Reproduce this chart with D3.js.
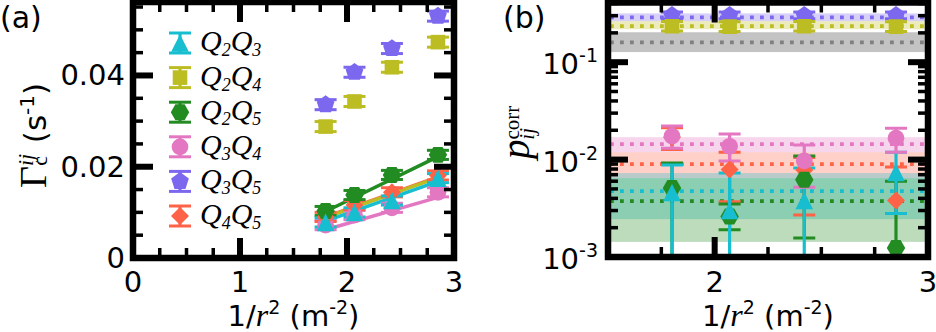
<!DOCTYPE html>
<html><head><meta charset="utf-8">
<script src="https://cdn.jsdelivr.net/npm/d3@7"></script>
<style>body{margin:0;background:#fff}svg{display:block}</style>
</head><body><svg id="c" width="936" height="332"></svg>
<script>
// ---------- data ----------
const xVals = [1.80, 2.07, 2.42, 2.85];            // 1/r^2 (m^-2)
const pairSubs = [["2","3"],["2","4"],["2","5"],["3","4"],["3","5"],["4","5"]];
const colors = ["#17becf","#bcbd22","#228b22","#e377c2","#7b68ee","#ff6347"];
const shapes = ["triangle","square","hexagon","circle","pentagon","diamond"];

// (a) Gamma_c^{ij} (s^-1)
const gammaQ2Q3 = [0.0078, 0.0100, 0.0126, 0.0175];
const gammaQ2Q4 = [0.0288, 0.0343, 0.0418, 0.0473];
const gammaQ2Q5 = [0.0103, 0.0138, 0.0182, 0.0226];
const gammaQ3Q4 = [0.0072, 0.0094, 0.0110, 0.0144];
const gammaQ3Q5 = [0.0336, 0.0407, 0.0459, 0.0530];
const gammaQ4Q5 = [0.0090, 0.0116, 0.0144, 0.0181];
const gammaErr  = [0.0010, 0.0011, 0.0010, 0.0010, 0.0011, 0.0010];
const fitX = [1.80, 2.85];
const fitQ2Q3 = [0.0081, 0.0168];
const fitQ2Q4 = [0.0089, 0.0176];
const fitQ2Q5 = [0.0102, 0.0222];
const fitQ3Q4 = [0.0062, 0.0133];
const fitQ3Q5 = null;
const fitQ4Q5 = [0.0090, 0.0178];

// (b) p_ij^corr : value, lower cap, upper cap
const pQ2Q3 = [0.0046, 0.0030, 0.0038, 0.0074];
const pQ2Q3Lo = [0.0002, 0.0002, 0.0002, 0.0028];
const pQ2Q3Hi = [0.0088, 0.0073, 0.0082, 0.0119];
const pQ2Q4 = [0.234, 0.232, 0.234, 0.232];
const pQ2Q4Lo = [0.209, 0.207, 0.209, 0.207];
const pQ2Q4Hi = [0.262, 0.260, 0.262, 0.260];
const pQ2Q5 = [0.0051, 0.0026, 0.0062, 0.00124];
const pQ2Q5Lo = [0.0002, 0.0019, 0.00157, 0.0002];
const pQ2Q5Hi = [0.0092, 0.0035, 0.0109, 0.0060];
const pQ3Q4 = [0.0174, 0.0137, 0.0097, 0.0166];
const pQ3Q4Lo = [0.0131, 0.0097, 0.0052, 0.0119];
const pQ3Q4Hi = [0.0221, 0.0183, 0.0141, 0.0210];
const pQ3Q5 = [0.303, 0.303, 0.303, 0.303];
const pQ3Q5Lo = [0.280, 0.280, 0.280, 0.280];
const pQ3Q5Hi = [0.328, 0.328, 0.328, 0.328];
const pQ4Q5 = [0.0170, 0.0079, 0.0078, 0.0038];
const pQ4Q5Lo = [0.0127, 0.0037, 0.0027, 0.0028];
const pQ4Q5Hi = [0.0212, 0.0119, 0.0105, 0.0084];

// (b) averages (dotted) with +/- bands; order: Q3Q5, Q2Q4, reference, Q3Q4, Q4Q5, Q2Q3, Q2Q5
const meanVals  = [0.289, 0.234, 0.160, 0.0144, 0.0090, 0.00475, 0.00375];
const bandLo    = [0.264, 0.218, 0.127, 0.0119, 0.00645, 0.00245, 0.00143];
const bandHi    = [0.317, 0.264, 0.203, 0.0170, 0.0119, 0.00727, 0.00645];
const meanColors = ["#7b68ee","#bcbd22","#808080","#e377c2","#ff6347","#17becf","#228b22"];
const bandAlpha  = [0.3, 0.3, 0.47, 0.3, 0.3, 0.3, 0.3];

// tick values
const xTicksA = [0, 1, 2, 3];
const yTicksA = [0, 0.02, 0.04];
const xTicksB = [2, 3];
const yTicksB = [1e-3, 1e-2, 1e-1];
const yTickExpB = ["-3", "-2", "-1"];

// ---------- helpers ----------
const gamma = [gammaQ2Q3, gammaQ2Q4, gammaQ2Q5, gammaQ3Q4, gammaQ3Q5, gammaQ4Q5];
const fits = [fitQ2Q3, fitQ2Q4, fitQ2Q5, fitQ3Q4, fitQ3Q5, fitQ4Q5];
const pv = [pQ2Q3, pQ2Q4, pQ2Q5, pQ3Q4, pQ3Q5, pQ4Q5];
const pLo = [pQ2Q3Lo, pQ2Q4Lo, pQ2Q5Lo, pQ3Q4Lo, pQ3Q5Lo, pQ4Q5Lo];
const pHi = [pQ2Q3Hi, pQ2Q4Hi, pQ2Q5Hi, pQ3Q4Hi, pQ3Q5Hi, pQ4Q5Hi];

const SANS = "DejaVu Sans", SERIF = "Liberation Serif";
const svg = d3.select("#c");

function regPoly(n, r, rot) {
  const pts = d3.range(n).map(i => {
    const a = rot + i * 2 * Math.PI / n;
    return [r * Math.cos(a), r * Math.sin(a)];
  });
  return "M" + pts.map(p => p.join(",")).join("L") + "Z";
}
function markerPath(type) {
  switch (type) {
    case "triangle": { const h = 8.8; return `M0,${-h}L${h},${h}L${-h},${h}Z`; }
    case "square": return regPoly(4, 7.3 * Math.SQRT2, Math.PI / 4);
    case "hexagon": return regPoly(6, 9.2, 0);
    case "circle": return d3.symbol(d3.symbolCircle, Math.PI * 70)();
    case "pentagon": return regPoly(5, 9.3, -Math.PI / 2);
    case "diamond": return regPoly(4, 9, -Math.PI / 2);
  }
}
const CAPW = 11, EBW = 3.2, CAPT = 3;
function errorbar(g, cx, yl, yh, color) {
  g.append("line").attr("x1", cx).attr("x2", cx).attr("y1", yl).attr("y2", yh)
    .attr("stroke", color).attr("stroke-width", EBW);
  [yl, yh].forEach(yy => g.append("line").attr("x1", cx - CAPW).attr("x2", cx + CAPW)
    .attr("y1", yy).attr("y2", yy).attr("stroke", color).attr("stroke-width", CAPT));
}
function marker(g, cx, cy, i) {
  g.append("path").attr("d", markerPath(shapes[i])).attr("transform", `translate(${cx},${cy})`)
    .attr("fill", colors[i]);
}
function drawTicks(g, xs, ys, xMaj, xMin, yMaj, yMin) {
  const [L, R] = xs.range(), [B, T] = ys.range();
  const line = (x1, y1, x2, y2, w) => g.append("line").attr("x1", x1).attr("y1", y1)
    .attr("x2", x2).attr("y2", y2).attr("stroke", "#000").attr("stroke-width", w);
  const ML = 20, ml = 10;
  xMaj.forEach(v => { const x = xs(v); line(x, B, x, B - ML, 6); line(x, T, x, T + ML, 6); });
  xMin.forEach(v => { const x = xs(v); line(x, B, x, B - ml, 3.5); line(x, T, x, T + ml, 3.5); });
  yMaj.forEach(v => { const y = ys(v); line(L, y, L + ML, y, 6); line(R, y, R - ML, y, 6); });
  yMin.forEach(v => { const y = ys(v); line(L, y, L + ml, y, 3.5); line(R, y, R - ml, y, 3.5); });
  g.append("rect").attr("x", L).attr("y", T).attr("width", R - L).attr("height", B - T)
    .attr("fill", "none").attr("stroke", "#000").attr("stroke-width", 6.5);
}
function xLabel(cx) {
  const t = svg.append("text").attr("x", cx).attr("y", 326).attr("text-anchor", "middle")
    .attr("font-family", SANS).attr("font-size", 29);
  t.append("tspan").text("1/");
  t.append("tspan").attr("font-family", SERIF).attr("font-style", "italic").attr("font-size", 32).text("r");
  t.append("tspan").attr("font-size", 19).attr("dy", -12).text("2");
  t.append("tspan").attr("dy", 12).text(" (m");
  t.append("tspan").attr("font-size", 19).attr("dy", -12).text("-2");
  t.append("tspan").attr("dy", 12).text(")");
}

// ---------- panel (a) ----------
const xa = d3.scaleLinear().domain([0, 3]).range([133, 454]);
const ya = d3.scaleLinear().domain([0, 0.0561]).range([258, 2]);
svg.append("clipPath").attr("id", "ca").append("rect")
  .attr("x", 133).attr("y", 2).attr("width", 321).attr("height", 256);
const ga = svg.append("g").attr("clip-path", "url(#ca)");

// fit lines
[5, 1, 0, 3, 2].forEach(i => {
  if (!fits[i]) return;
  ga.append("line").attr("x1", xa(fitX[0])).attr("x2", xa(fitX[1]))
    .attr("y1", ya(fits[i][0])).attr("y2", ya(fits[i][1]))
    .attr("stroke", colors[i]).attr("stroke-width", 3.5);
});
const orderA = [4, 1, 3, 5, 2, 0];
orderA.forEach(i => xVals.forEach((x, k) =>
  errorbar(ga, xa(x), ya(gamma[i][k] - gammaErr[i]), ya(gamma[i][k] + gammaErr[i]), colors[i])));
orderA.forEach(i => xVals.forEach((x, k) => marker(ga, xa(x), ya(gamma[i][k]), i)));

// legend
pairSubs.forEach((s, i) => {
  const cy = 43 + i * 34.6;
  errorbar(svg, 180, cy - 10, cy + 10, colors[i]);
  marker(svg, 180, cy, i);
  const t = svg.append("text").attr("x", 200).attr("y", cy + 8)
    .attr("font-family", SERIF).attr("font-style", "italic").attr("font-size", 30);
  t.append("tspan").text("Q");
  t.append("tspan").attr("font-size", 18).attr("dy", 5).text(s[0]);
  t.append("tspan").attr("dy", -5).text("Q");
  t.append("tspan").attr("font-size", 18).attr("dy", 5).text(s[1]);
});

drawTicks(svg.append("g"), xa, ya, xTicksA,
  d3.range(0, 3.001, 0.25).filter(v => Math.abs(v - Math.round(v)) > 1e-6),
  yTicksA, d3.range(0.005, 0.0561, 0.005).filter(v => Math.abs(v / 0.02 - Math.round(v / 0.02)) > 1e-6));

xTicksA.forEach(v => svg.append("text").attr("x", xa(v)).attr("y", 292).attr("text-anchor", "middle")
  .attr("font-family", SANS).attr("font-size", 29).text(v));
yTicksA.forEach(v => svg.append("text").attr("x", 125).attr("y", ya(v) + 10).attr("text-anchor", "end")
  .attr("font-family", SANS).attr("font-size", 29).text(v === 0 ? "0" : v.toFixed(2)));
xLabel(293.5);
{
  const t = svg.append("text").attr("transform", "translate(46,188) rotate(-90)")
    .attr("font-family", SANS).attr("font-size", 31);
  t.append("tspan").attr("font-family", SERIF).attr("font-size", 38).text("Γ");
  t.append("tspan").attr("font-family", SERIF).attr("font-style", "italic").attr("font-size", 22).attr("dy", -13).text("ij");
  t.append("tspan").attr("font-family", SERIF).attr("font-size", 22).attr("dx", -12).attr("dy", 14).text("c");
  t.append("tspan").attr("dy", -1).attr("dx", 3).text(" (s");
  t.append("tspan").attr("font-size", 20).attr("dy", -12).text("-1");
  t.append("tspan").attr("dy", 12).text(")");
}
svg.append("text").attr("x", 0).attr("y", 28).attr("font-family", SANS).attr("font-size", 30).text("(a)");

// ---------- panel (b) ----------
const xb = d3.scaleLinear().domain([1.5, 3]).range([608, 928]);
const yb = d3.scaleLog().domain([1e-3, 0.41]).range([257, 2.5]);
svg.append("clipPath").attr("id", "cb").append("rect")
  .attr("x", 608).attr("y", 2.5).attr("width", 320).attr("height", 254.5);
const gb = svg.append("g").attr("clip-path", "url(#cb)");

meanVals.forEach((m, j) => {
  gb.append("rect").attr("x", 608).attr("width", 320)
    .attr("y", yb(bandHi[j])).attr("height", yb(bandLo[j]) - yb(bandHi[j]))
    .attr("fill", meanColors[j]).attr("fill-opacity", bandAlpha[j]);
});
meanVals.forEach((m, j) => {
  gb.append("line").attr("x1", 608).attr("x2", 928).attr("y1", yb(m)).attr("y2", yb(m))
    .attr("stroke", meanColors[j]).attr("stroke-width", 3.8).attr("stroke-dasharray", "3.8,6.2")
    .attr("stroke-dashoffset", -2);
});
const orderB = [4, 1, 5, 2, 0, 3];
orderB.forEach(i => xVals.forEach((x, k) =>
  errorbar(gb, xb(x), yb(pLo[i][k]), yb(pHi[i][k]), colors[i])));
orderB.forEach(i => xVals.forEach((x, k) => marker(gb, xb(x), yb(pv[i][k]), i)));

const minorB = [];
[1e-3, 1e-2, 1e-1].forEach(d => d3.range(2, 10).forEach(k => { if (k * d <= 0.41) minorB.push(k * d); }));
drawTicks(svg.append("g"), xb, yb, xTicksB, [1.75, 2.25, 2.5, 2.75], yTicksB, minorB);

xTicksB.forEach(v => svg.append("text").attr("x", xb(v)).attr("y", 292).attr("text-anchor", "middle")
  .attr("font-family", SANS).attr("font-size", 29).text(v));
yTicksB.forEach((v, j) => {
  const t = svg.append("text").attr("x", 598).attr("y", yb(v) + 12).attr("text-anchor", "end")
    .attr("font-family", SANS).attr("font-size", 29);
  t.append("tspan").text("10");
  t.append("tspan").attr("font-size", 19).attr("dy", -12).text(yTickExpB[j]);
});
xLabel(768);
{
  const t = svg.append("text").attr("transform", "translate(529,159) rotate(-90)")
    .attr("font-family", SERIF);
  t.append("tspan").attr("font-style", "italic").attr("font-size", 39).text("p");
  t.append("tspan").attr("font-size", 21).attr("dy", -10).text("corr");
  t.append("tspan").attr("font-style", "italic").attr("font-size", 21).attr("dx", -34).attr("dy", 15).text("ij");
}
svg.append("text").attr("x", 503).attr("y", 28).attr("font-family", SANS).attr("font-size", 30).text("(b)");
</script></body></html>
